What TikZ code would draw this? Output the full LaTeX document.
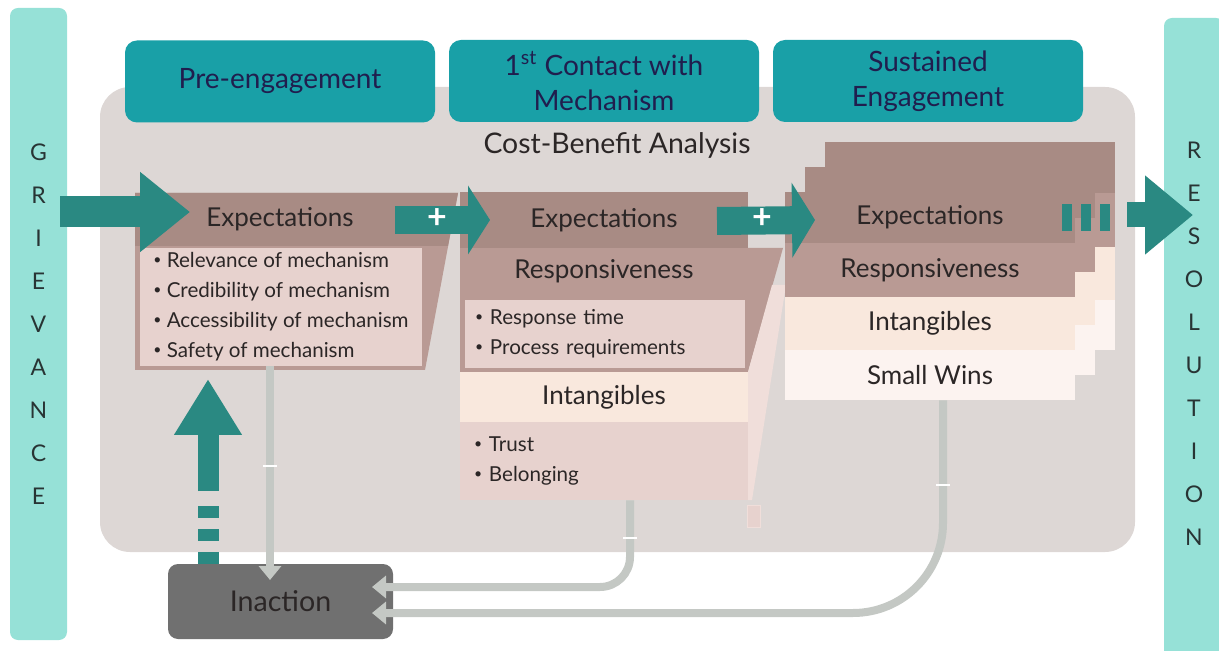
\documentclass[tikz,border=0pt]{standalone}
\usepackage{fontspec}
\setmainfont{Lato}
\usetikzlibrary{arrows.meta}
\usetikzlibrary{calc}

\definecolor{barteal}{RGB}{150,225,215}
\definecolor{headteal}{RGB}{25,160,167}
\definecolor{arrowteal}{RGB}{42,137,130}
\definecolor{panelgray}{RGB}{221,215,213}
\definecolor{browndark}{RGB}{168,139,132}
\definecolor{brownmid}{RGB}{185,154,148}
\definecolor{pinklight}{RGB}{231,210,206}
\definecolor{pinkstrip}{RGB}{240,222,218}
\definecolor{creamband}{RGB}{249,232,221}
\definecolor{winsband}{RGB}{252,243,240}
\definecolor{inactgray}{RGB}{112,112,112}
\definecolor{linegray}{RGB}{196,200,196}
\definecolor{headtext}{RGB}{32,30,78}
\definecolor{bodytext}{RGB}{43,38,38}
\definecolor{lettertext}{RGB}{40,52,52}

\newcommand{\bul}{\raisebox{0.3ex}{\fontsize{7pt}{7pt}\selectfont•}\ }

\begin{document}
\begin{tikzpicture}[x=0.5pt, y=-0.5pt,
        bar_style/.style={rectangle, rounded corners=4pt, fill=barteal, minimum width=28.5pt, align=center, text=lettertext, font=\fontsize{11.5pt}{21.5pt}\selectfont},
        head_style/.style={rectangle, rounded corners=6pt, fill=headteal, minimum width=155pt, minimum height=41pt, align=center, text=headtext, font=\fontsize{14pt}{17.5pt}\selectfont},
        title_style/.style={inner sep=0pt, text=bodytext, font=\fontsize{13pt}{15pt}\selectfont},
        band_style/.style={rectangle, inner sep=0pt, text=bodytext, font=\fontsize{13pt}{15pt}\selectfont},
        list_style/.style={rectangle, align=left, inner ysep=0pt, text=bodytext, font=\fontsize{10.3pt}{15pt}\selectfont},
        block_arrow/.style={draw=arrowteal, line width=14pt},
        plus_style/.style={inner sep=0pt, text=white, font=\fontsize{17pt}{17pt}\selectfont\bfseries},
        gray_edge/.style={draw=linegray, line width=4pt, -{Triangle[width=11pt,length=7pt]}},
        tick_style/.style={rectangle, fill=white, inner sep=0pt, minimum width=7pt, minimum height=1.3pt}]

        \useasboundingbox (0,0) rectangle (1219,651);

        \node [rectangle, rounded corners=15pt, fill=panelgray, minimum width=517.5pt, minimum height=232.5pt] (panel) at (617.5,319.5) {};

        \node [bar_style, minimum height=316pt] (grievance) at (38.5,324) {G\\R\\I\\E\\V\\A\\N\\C\\E};
        \node [bar_style, minimum height=326pt, minimum width=30pt] (resolution) at (1194,344) {R\\E\\S\\O\\L\\U\\T\\I\\O\\N};

        \node [head_style] (pre_head) at (280,81.5) {Pre-engagement};
        \node [head_style] (contact_head) at (604,81) {1\textsuperscript{st} Contact with\\Mechanism};
        \node [head_style] (sustain_head) at (928,81) {Sustained\\Engagement};
        \node [title_style, font=\fontsize{14.2pt}{16pt}\selectfont] (cba) at (617,145) {Cost-Benefit Analysis};

        \fill [brownmid] (135,193) -- (458,193) -- (425,370) -- (135,370) -- cycle;
        \fill [browndark] (135,193) -- (458,193) -- (448,246) -- (135,246) -- cycle;
        \node [title_style] (exp1) at (280,219) {Expectations};
        \node [list_style, fill=pinklight, minimum width=141pt, minimum height=59pt, inner xsep=0pt] (pre_box) at (281,307)
            {\bul Relevance of mechanism\\\bul Credibility of mechanism\\\bul Accessibility of mechanism\\\bul Safety of mechanism};

        \fill [brownmid] (460,248) -- (783,248) -- (748,372) -- (460,372) -- cycle;
        \fill [pinkstrip] (772,285) -- (786,285) -- (752,500) -- (748,500) -- (748,372) -- cycle;
        \node [rectangle, fill=pinklight, draw=pinkstrip, minimum width=6.5pt, minimum height=11pt, inner sep=0pt] (stub) at (753.5,516) {};
        \node [band_style, fill=browndark, minimum width=144pt, minimum height=28pt] (exp2) at (604,220) {Expectations};
        \node [title_style] (resp2) at (604,271) {Responsiveness};
        \node [list_style, fill=pinklight, minimum width=140pt, minimum height=34pt, text width=130pt, inner xsep=5pt] (resp_box) at (605,334)
            {\bul Response time\\\bul Process requirements};
        \node [band_style, fill=creamband, minimum width=144pt, minimum height=25pt] (int2) at (604,397) {Intangibles};
        \node [list_style, fill=pinklight, minimum width=144pt, minimum height=39pt, text width=130pt, inner xsep=7pt] (trust_box) at (604,461)
            {\bul Trust\\\bul Belonging};

        \foreach \k in {2,1} {
            \begin{scope}[shift={(20*\k,-25*\k)}]
                \fill [browndark] (785,192) rectangle (1075,243);
                \fill [brownmid] (785,243) rectangle (1075,297);
                \fill [creamband] (785,297) rectangle (1075,350);
                \fill [winsband] (785,350) rectangle (1075,400);
            \end{scope}
        }
        \node [band_style, fill=browndark, minimum width=145pt, minimum height=25.5pt] (exp3) at (930,217.5) {Expectations};
        \node [band_style, fill=brownmid, minimum width=145pt, minimum height=27pt] (resp3) at (930,270) {Responsiveness};
        \node [band_style, fill=creamband, minimum width=145pt, minimum height=26.5pt] (int3) at (930,323.5) {Intangibles};
        \node [band_style, fill=winsband, minimum width=145pt, minimum height=25pt] (wins3) at (930,375) {Small Wins};

        \node [rectangle, rounded corners=5pt, fill=inactgray, minimum width=112.5pt, minimum height=37.5pt, text=bodytext, font=\fontsize{14.3pt}{16pt}\selectfont] (inaction) at (280.5,601.5) {Inaction};

        \coordinate (in_a) at (270,580);
        \coordinate (in_b) at (372,587);
        \coordinate (in_c) at (372,613);
        \draw [gray_edge] ([xshift=-5.5pt]pre_box.south) -- (in_a);
        \draw [gray_edge, rounded corners=15pt] ([xshift=13pt]trust_box.south) |- (in_b);
        \draw [gray_edge, rounded corners=45pt] ([xshift=6.5pt]wins3.south) |- (in_c);
        \node [tick_style] (t1) at (270,466) {};
        \node [tick_style] (t2) at (630,538) {};
        \node [tick_style] (t3) at (943,485) {};

        \coordinate (g_tip) at (190,212);
        \coordinate (p1_tip) at (490,220);
        \coordinate (p2_tip) at (815,220);
        \coordinate (r_tip) at (1193,215);
        \coordinate (up_tip) at (208,379);
        \draw [block_arrow, line width=15.5pt, -{Triangle[width=38.5pt,length=25pt]}] ($(grievance.east |- g_tip)+(-7,0)$) -- (g_tip);
        \draw [block_arrow, -{Triangle[width=34pt,length=11pt]}] (395,220) -- (p1_tip);
        \draw [block_arrow, -{Triangle[width=37pt,length=11.5pt]}] (717,221) -- (p2_tip);
        \node [plus_style] (plus1) at (437,219) {+};
        \node [plus_style] (plus2) at (762,219) {+};
        \draw [arrowteal, line width=13.5pt, dash pattern=on 5pt off 4.5pt] (1062,218) -- (1111,218);
        \draw [block_arrow, line width=12.5pt, -{Triangle[width=38pt,length=24pt]}] (1127,215) -- (r_tip);
        \draw [arrowteal, line width=10.5pt, dash pattern=on 6pt off 5.5pt] (inaction.north -| up_tip) -- (208,506);
        \draw [block_arrow, line width=10.5pt, -{Triangle[width=32pt,length=28pt]}] (208,491) -- (up_tip);
\end{tikzpicture}
\end{document}
